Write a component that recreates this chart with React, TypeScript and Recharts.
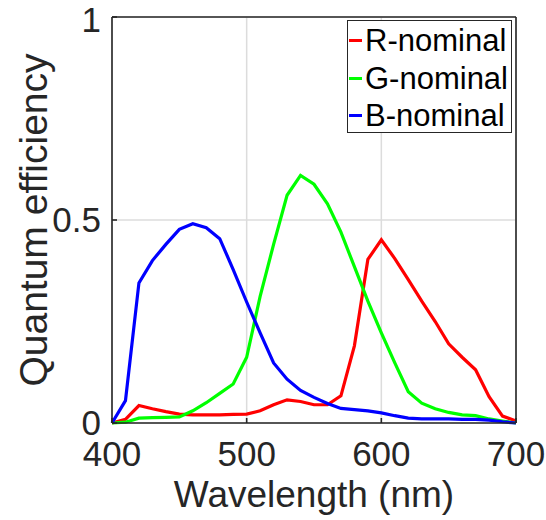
import React from 'react';
import { LineChart, Line, XAxis, YAxis, CartesianGrid, Legend } from 'recharts';

const WAVELENGTHS = [
  400, 410, 420, 430, 440, 450, 460, 470, 480, 490, 500, 510, 520, 530, 540, 550,
  560, 570, 580, 590, 600, 610, 620, 630, 640, 650, 660, 670, 680, 690, 700,
];

const R_NOMINAL = [
  0, 0.009, 0.043, 0.035, 0.028, 0.022, 0.02, 0.02, 0.02, 0.021, 0.022, 0.03, 0.045, 0.057, 0.053, 0.045,
  0.045, 0.067, 0.19, 0.403, 0.451, 0.405, 0.353, 0.3, 0.25, 0.195, 0.162, 0.131, 0.065, 0.017, 0.005,
];

const G_NOMINAL = [
  0, 0.002, 0.012, 0.013, 0.014, 0.015, 0.03, 0.05, 0.073, 0.096, 0.162, 0.312, 0.44, 0.561, 0.61, 0.588,
  0.54, 0.47, 0.385, 0.3, 0.222, 0.148, 0.077, 0.049, 0.035, 0.026, 0.02, 0.018, 0.01, 0.005, 0,
];

const B_NOMINAL = [
  0, 0.055, 0.345, 0.4, 0.44, 0.477, 0.491, 0.481, 0.454, 0.378, 0.298, 0.222, 0.148, 0.108, 0.08, 0.063,
  0.048, 0.036, 0.033, 0.03, 0.025, 0.018, 0.012, 0.01, 0.01, 0.01, 0.009, 0.009, 0.007, 0.003, 0,
];

const SERIES_NAMES = ['R-nominal', 'G-nominal', 'B-nominal'];
const SERIES_COLORS = ['#ff0000', '#00ff00', '#0000ff'];
const SERIES_VALUES = [R_NOMINAL, G_NOMINAL, B_NOMINAL];

const X_TICKS = [400, 500, 600, 700];
const Y_TICKS = [0, 0.5, 1];
const X_LABEL = 'Wavelength (nm)';
const Y_LABEL = 'Quantum efficiency';

const data = WAVELENGTHS.map((wl, i) => {
  const row: Record<string, number> = { wl };
  SERIES_NAMES.forEach((name, s) => {
    row[name] = SERIES_VALUES[s][i];
  });
  return row;
});

const FONT = '"Liberation Sans", Arial, Helvetica, sans-serif';
const AXIS_COLOR = '#262626';
const AXIS_W = 1.6;

function LegendBox() {
  return (
    <div
      style={{
        boxSizing: 'border-box',
        width: 165,
        height: 113,
        border: `1.5px solid ${AXIS_COLOR}`,
        background: '#fff',
        paddingTop: 1,
        fontFamily: FONT,
      }}
    >
      {SERIES_NAMES.map((name, i) => (
        <div key={name} style={{ display: 'flex', alignItems: 'center', height: 37.5 }}>
          <div style={{ width: 13, height: 3, background: SERIES_COLORS[i], marginLeft: 1, marginRight: 3 }} />
          <span style={{ fontSize: 31, color: '#000', lineHeight: '31px', whiteSpace: 'nowrap' }}>{name}</span>
        </div>
      ))}
    </div>
  );
}

const XLabel = (props: any) => {
  const vb = props.viewBox;
  return (
    <text x={vb.x + vb.width / 2} y={vb.y + 84} textAnchor="middle" fontSize={37} fill={AXIS_COLOR} fontFamily={FONT}>
      {X_LABEL}
    </text>
  );
};

const YLabel = (props: any) => {
  const vb = props.viewBox;
  const x = vb.x + 47;
  const y = vb.y + vb.height / 2;
  return (
    <text
      x={x}
      y={y}
      transform={`rotate(-90, ${x}, ${y})`}
      textAnchor="middle"
      fontSize={39}
      fill={AXIS_COLOR}
      fontFamily={FONT}
    >
      {Y_LABEL}
    </text>
  );
};

const tickStyle = { fontSize: 35, fill: AXIS_COLOR, fontFamily: FONT };
const lineStyle = { stroke: AXIS_COLOR, strokeWidth: AXIS_W };

export default function App() {
  return (
    <div style={{ position: 'absolute', left: 0, top: 0, width: 546, height: 520, background: '#fff' }}>
      <LineChart width={546} height={520} data={data} margin={{ top: 16, right: 29, bottom: 0, left: 0 }}>
        <CartesianGrid xAxisId="bottom" yAxisId="left" stroke="#dcdcdc" strokeWidth={1.5} />
        <XAxis
          xAxisId="bottom"
          dataKey="wl"
          type="number"
          domain={[400, 700]}
          ticks={X_TICKS}
          height={97}
          tickSize={-5}
          tickMargin={23}
          tick={tickStyle}
          axisLine={lineStyle}
          tickLine={lineStyle}
          label={{ value: X_LABEL, content: XLabel }}
        />
        <XAxis
          xAxisId="top"
          orientation="top"
          dataKey="wl"
          type="number"
          domain={[400, 700]}
          ticks={X_TICKS}
          height={1}
          tickSize={-5}
          tick={false}
          axisLine={lineStyle}
          tickLine={lineStyle}
        />
        <YAxis
          yAxisId="left"
          type="number"
          domain={[0, 1]}
          ticks={Y_TICKS}
          width={112}
          tickSize={-5}
          tickMargin={16}
          tick={tickStyle}
          axisLine={lineStyle}
          tickLine={lineStyle}
          label={{ value: Y_LABEL, content: YLabel }}
        />
        <YAxis
          yAxisId="right"
          orientation="right"
          type="number"
          domain={[0, 1]}
          ticks={Y_TICKS}
          width={1}
          tickSize={-5}
          tick={false}
          axisLine={lineStyle}
          tickLine={lineStyle}
        />
        {SERIES_NAMES.map((name, i) => (
          <Line
            key={name}
            xAxisId="bottom"
            yAxisId="left"
            type="linear"
            dataKey={name}
            stroke={SERIES_COLORS[i]}
            strokeWidth={3.2}
            dot={false}
            activeDot={false}
            isAnimationActive={false}
          />
        ))}
        <Legend
          content={LegendBox}
          layout="horizontal"
          verticalAlign="middle"
          align="center"
          wrapperStyle={{ top: 20, left: 347, width: 165, height: 113 }}
        />
      </LineChart>
    </div>
  );
}
